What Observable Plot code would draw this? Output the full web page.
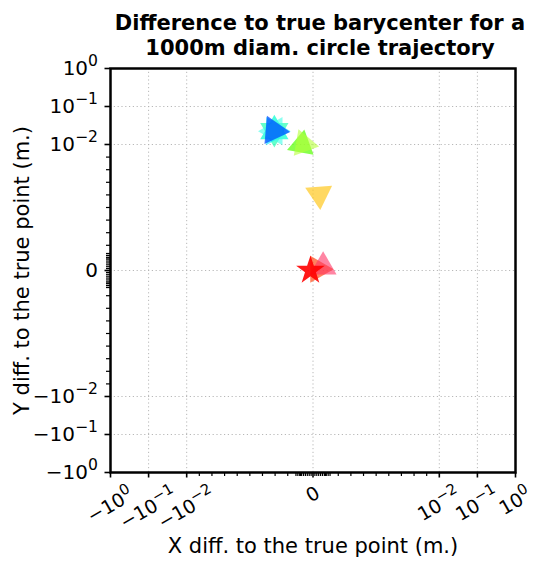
<!DOCTYPE html>
<html><head><meta charset="utf-8">
<script src="https://cdn.jsdelivr.net/npm/d3@7"></script>
<script src="https://cdn.jsdelivr.net/npm/@observablehq/plot@0.6"></script>
<style>body{margin:0;background:#fff} svg{font-family:"DejaVu Sans"}</style>
</head><body><div id="chart"></div>
<script>
// ---- data (metres) ----
const pointX = [-0.0002, 0.0004, 0.0008, 0.00049, -0.0009, -0.00073, -0.00306, -0.00306, -0.00306, -0.00306, -0.0031];
const pointY = [0, 0.0001, 0.0003, 0.00603, 0.00998, 0.01043, 0.0224, 0.0224, 0.0224, 0.0224, 0.0232];
const pointColor = ["#ff0000", "#ff4d1a", "#ff3366", "#ffc81e", "#55ff00", "#b5ff3a", "#00ffd0", "#00ffa8", "#00e8ff", "#40ffe8", "#0050ff"];
const pointSymbol = ["star", "triangle", "triangle", "triangle", "triangle", "triangle", "triangle", "triangle", "triangle", "triangle", "triangle"];
const pointRotate = [0, 90, 0, 176, 10, -20, 0, 180, 90, 270, 95];
const pointOpacity = [0.9, 0.7, 0.6, 0.7, 0.7, 0.6, 0.7, 0.6, 0.6, 0.6, 0.75];
const pointSize = [9, 10, 10, 10, 10, 10, 10.5, 10.5, 10.5, 10.5, 10.5];

const majorTicks = [-1, -0.1, -0.01, 0, 0.01, 0.1, 1];
const tickLabels = ["−10⁰", "−10⁻¹", "−10⁻²", "0", "10⁻²", "10⁻¹", "10⁰"];
const gridTicks = [-0.1, -0.01, 0, 0.01, 0.1];
const minorSteps = [0.001, 0.002, 0.003, 0.004, 0.005, 0.006, 0.007, 0.008, 0.009];
const denseSteps = [0.00015, 0.0003, 0.00045, 0.0006, 0.00075, 0.0009, 0.00105, 0.0012, 0.00135];

const titleText = "Difference to true barycenter for a\n1000m diam. circle trajectory";
const xLabel = "X diff. to the true point (m.)";
const yLabel = "Y diff. to the true point (m.)";

// ---- symmetric log transform (linear within ±0.01) ----
const L = 0.01, S = 126 / 38;
const symlog = v => { const a = Math.abs(v); return Math.sign(v) * (a <= L ? S * a / L : S + Math.log10(a / L)); };
const lim = symlog(1);

const tickSets = [minorSteps, minorSteps.map(v => -v), denseSteps, denseSteps.map(v => -v)];
const data = pointX.map((x, i) => ({x, y: pointY[i], color: pointColor[i], symbol: pointSymbol[i], rotate: pointRotate[i], opacity: pointOpacity[i], r: pointSize[i]}));
const fmt = d => tickLabels[majorTicks.indexOf(d)];

const chart = Plot.plot({
  width: 533, height: 562,
  marginLeft: 110, marginRight: 18, marginTop: 68, marginBottom: 90,
  style: {fontFamily: "DejaVu Sans", fontSize: "20px", color: "black", background: "white"},
  x: {transform: symlog, domain: [-lim, lim]},
  y: {transform: symlog, domain: [-lim, lim]},
  color: {type: "identity"},
  symbol: {type: "identity"},
  opacity: {type: "identity"},
  r: {type: "identity"},
  marks: [
    Plot.gridX(gridTicks, {stroke: "#b0b0b0", strokeOpacity: 1, strokeWidth: 0.9, strokeDasharray: "1.2,2.6"}),
    Plot.gridY(gridTicks, {stroke: "#b0b0b0", strokeOpacity: 1, strokeWidth: 0.9, strokeDasharray: "1.2,2.6"}),
    Plot.dot(data, {x: "x", y: "y", fill: "color", symbol: "symbol", rotate: "rotate", r: "r", fillOpacity: "opacity", stroke: "none"}),
    Plot.frame({stroke: "black", strokeWidth: 2.5}),
    ...tickSets.map(t => Plot.axisX(t, {tickSize: 4, stroke: "black", strokeWidth: 1.2, tickFormat: () => "", label: null})),
    ...tickSets.map(t => Plot.axisY(t, {tickSize: 4, stroke: "black", strokeWidth: 1.2, tickFormat: () => "", label: null})),
    Plot.axisX(majorTicks, {tickSize: 5.5, strokeWidth: 1.6, tickPadding: 3, tickRotate: -30, textAnchor: "middle", lineAnchor: "middle", fontSize: 19, tickFormat: fmt, label: null, ariaLabel: "x-major"}),
    Plot.axisY(majorTicks, {tickSize: 5.5, strokeWidth: 1.6, tickPadding: 7, fontSize: 20, tickFormat: fmt, label: null, ariaLabel: "y-major"}),
    Plot.text([titleText], {text: d => d, frameAnchor: "top", dx: 7, dy: -56, lineAnchor: "top", fontWeight: "bold", fontSize: 21, lineHeight: 1.19}),
    Plot.text([xLabel], {text: d => d, frameAnchor: "bottom", dy: 80, fontSize: 21}),
    Plot.text([yLabel], {text: d => d, frameAnchor: "left", textAnchor: "middle", dx: -88, rotate: -90, fontSize: 21})
  ]
});
document.getElementById("chart").appendChild(chart);

// superscript exponents as tspans (text stays real text)
const supMap = {"⁰": "0", "¹": "1", "²": "2", "⁻": "−"};
d3.select(chart).selectAll("text").each(function() {
  const t = this.textContent;
  const m = /^(−?10)([⁰¹²⁻]+)$/.exec(t);
  if (!m) return;
  const el = d3.select(this);
  el.text(m[1]);
  el.append("tspan").attr("dy", "-0.55em").attr("font-size", "0.78em").text([...m[2]].map(c => supMap[c]).join(""));
});
// centre rotated x labels under their ticks, tops aligned (matplotlib-style)
d3.select(chart).selectAll("g[aria-label='x-major'] text, g[aria-label='x-major tick label'] text").each(function() {
  const b = this.getBBox();
  const rad = Math.PI / 6;
  const half = (b.width * Math.sin(rad) + b.height * Math.cos(rad)) / 2;
  const tr = this.getAttribute("transform") || "";
  this.setAttribute("transform", `translate(0,${half + 1}) ` + tr);
});
</script>
</body></html>
